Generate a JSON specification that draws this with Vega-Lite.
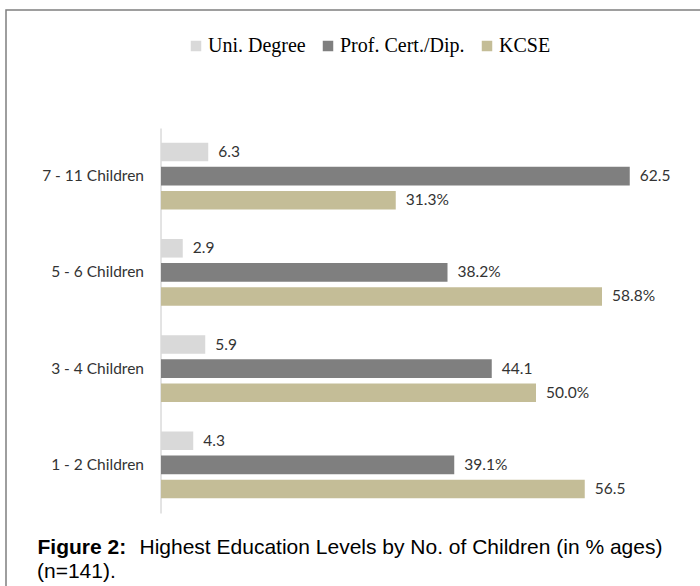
{
  "$schema": "https://vega.github.io/schema/vega-lite/v6.json",
  "autosize": {"type": "none"},
  "width": 695,
  "height": 577,
  "padding": {"left": 6, "top": 10, "right": -1, "bottom": -1},
  "background": "white",
  "config": {
    "view": {"stroke": "#7f7f7f", "strokeWidth": 1.5},
    "font": "Lato"
  },
  "title": {
    "text": "(n=141).",
    "orient": "top",
    "anchor": "start",
    "frame": "group",
    "offset": 0,
    "dx": 31,
    "dy": 589,
    "baseline": "alphabetic",
    "font": "Liberation Sans",
    "fontSize": 21,
    "fontWeight": "normal",
    "color": "#000000"
  },
  "data": {
    "values": [
      {"group": "7 - 11 Children", "level": "Uni. Degree", "value": 6.3, "label": "6.3"},
      {"group": "7 - 11 Children", "level": "Prof. Cert./Dip.", "value": 62.5, "label": "62.5"},
      {"group": "7 - 11 Children", "level": "KCSE", "value": 31.3, "label": "31.3%"},
      {"group": "5 - 6 Children", "level": "Uni. Degree", "value": 2.9, "label": "2.9"},
      {"group": "5 - 6 Children", "level": "Prof. Cert./Dip.", "value": 38.2, "label": "38.2%"},
      {"group": "5 - 6 Children", "level": "KCSE", "value": 58.8, "label": "58.8%"},
      {"group": "3 - 4 Children", "level": "Uni. Degree", "value": 5.9, "label": "5.9"},
      {"group": "3 - 4 Children", "level": "Prof. Cert./Dip.", "value": 44.1, "label": "44.1"},
      {"group": "3 - 4 Children", "level": "KCSE", "value": 50.0, "label": "50.0%"},
      {"group": "1 - 2 Children", "level": "Uni. Degree", "value": 4.3, "label": "4.3"},
      {"group": "1 - 2 Children", "level": "Prof. Cert./Dip.", "value": 39.1, "label": "39.1%"},
      {"group": "1 - 2 Children", "level": "KCSE", "value": 56.5, "label": "56.5"}
    ]
  },
  "encoding": {
    "y": {
      "field": "group",
      "type": "nominal",
      "sort": ["7 - 11 Children", "5 - 6 Children", "3 - 4 Children", "1 - 2 Children"],
      "scale": {"range": [118, 503], "paddingInner": 0.307, "paddingOuter": 0.1535},
      "axis": {
        "orient": "left",
        "offset": -154.5,
        "ticks": false,
        "domainColor": "#c8c8c8",
        "domainWidth": 1,
        "labelPadding": 17,
        "labelFont": "Lato",
        "labelFontSize": 15.5,
        "labelColor": "#333333",
        "title": "Highest Education Levels by No. of Children (in % ages)",
        "titleAngle": 0,
        "titleX": -21.5,
        "titleY": 543.5,
        "titleAlign": "left",
        "titleAnchor": null,
        "titleBaseline": "alphabetic",
        "titleFont": "Liberation Sans",
        "titleFontSize": 21,
        "titleFontWeight": "normal",
        "titleColor": "#000000"
      }
    },
    "yOffset": {
      "field": "level",
      "type": "nominal",
      "sort": ["Uni. Degree", "Prof. Cert./Dip.", "KCSE"],
      "scale": {"paddingInner": 0.229, "paddingOuter": 0}
    },
    "x": {
      "field": "value",
      "type": "quantitative",
      "scale": {"domain": [0, 70], "range": [155, 680], "nice": false},
      "axis": {
        "orient": "bottom",
        "domain": false,
        "ticks": false,
        "labels": false,
        "grid": false,
        "title": "Figure 2:",
        "titleX": 31,
        "titleY": -33.5,
        "titleAlign": "left",
        "titleAnchor": null,
        "titleBaseline": "alphabetic",
        "titleFont": "Liberation Sans",
        "titleFontSize": 21,
        "titleFontWeight": "bold",
        "titleColor": "#000000"
      }
    }
  },
  "layer": [
    {
      "mark": {"type": "bar"},
      "encoding": {
        "color": {
          "field": "level",
          "type": "nominal",
          "sort": ["Uni. Degree", "Prof. Cert./Dip.", "KCSE"],
          "scale": {
            "domain": ["Uni. Degree", "Prof. Cert./Dip.", "KCSE"],
            "range": ["#d9d9d9", "#7f7f7f", "#c4bd97"]
          },
          "legend": {
            "orient": "none",
            "direction": "horizontal",
            "legendX": 180,
            "legendY": 26,
            "title": null,
            "padding": 0,
            "symbolType": "square",
            "symbolSize": 110,
            "symbolStrokeWidth": 0,
            "labelFont": "Liberation Serif",
            "labelFontSize": 20,
            "labelColor": "#000000",
            "labelOffset": 2,
            "columnPadding": 12
          }
        }
      }
    },
    {
      "mark": {
        "type": "text",
        "align": "left",
        "baseline": "middle",
        "dx": 10,
        "font": "Lato",
        "fontSize": 15.5,
        "color": "#333333"
      },
      "encoding": {
        "text": {"field": "label", "type": "nominal"}
      }
    }
  ]
}
